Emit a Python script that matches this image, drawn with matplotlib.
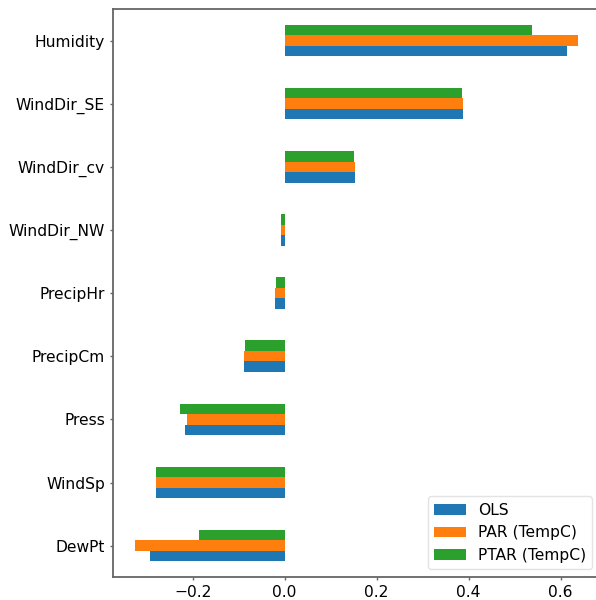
import matplotlib
matplotlib.use("Agg")
import matplotlib.pyplot as plt
import numpy as np

# coefficient comparison, bottom to top
features = ["DewPt", "WindSp", "Press", "PrecipCm", "PrecipHr",
            "WindDir_NW", "WindDir_cv", "WindDir_SE", "Humidity"]
ols = [-0.293, -0.280, -0.217, -0.089, -0.021, -0.008, 0.153, 0.388, 0.614]
par = [-0.326, -0.280, -0.213, -0.089, -0.021, -0.008, 0.153, 0.388, 0.638]
ptar = [-0.186, -0.280, -0.228, -0.086, -0.019, -0.008, 0.151, 0.386, 0.538]

series = [("OLS", ols, "#1f77b4"),
          ("PAR (TempC)", par, "#ff7f0e"),
          ("PTAR (TempC)", ptar, "#2ca02c")]

plt.rcParams["font.size"] = 11.2

fig = plt.figure(figsize=(5.96, 6.0), dpi=100)
ax = fig.add_axes([0.189, 0.038, 0.818, 0.947])

y = np.arange(len(features))
h = 0.5 / len(series)
for i, (name, vals, col) in enumerate(series):
    ax.barh(y - 0.25 + h * (i + 0.5), vals, height=h, color=col, label=name)

ax.set_yticks(y)
ax.set_yticklabels(features)
ax.set_ylim(-0.5, len(features) - 0.5)

allv = np.concatenate([ols, par, ptar])
lo, hi = allv.min(), allv.max()
pad = 0.05 * (hi - lo)
ax.set_xlim(lo - pad, hi + pad)
ax.set_xticks([-0.2, 0.0, 0.2, 0.4, 0.6])

# greyish frame, short ticks
for s in ax.spines.values():
    s.set_color("#666666")
    s.set_linewidth(1.3)
ax.spines["right"].set_visible(False)
ax.tick_params(length=2, width=1, color="#666666", pad=3.5)

leg = ax.legend(loc="lower right")
leg.get_frame().set_edgecolor("#dddddd")

fig.savefig("out.png", dpi=100)
